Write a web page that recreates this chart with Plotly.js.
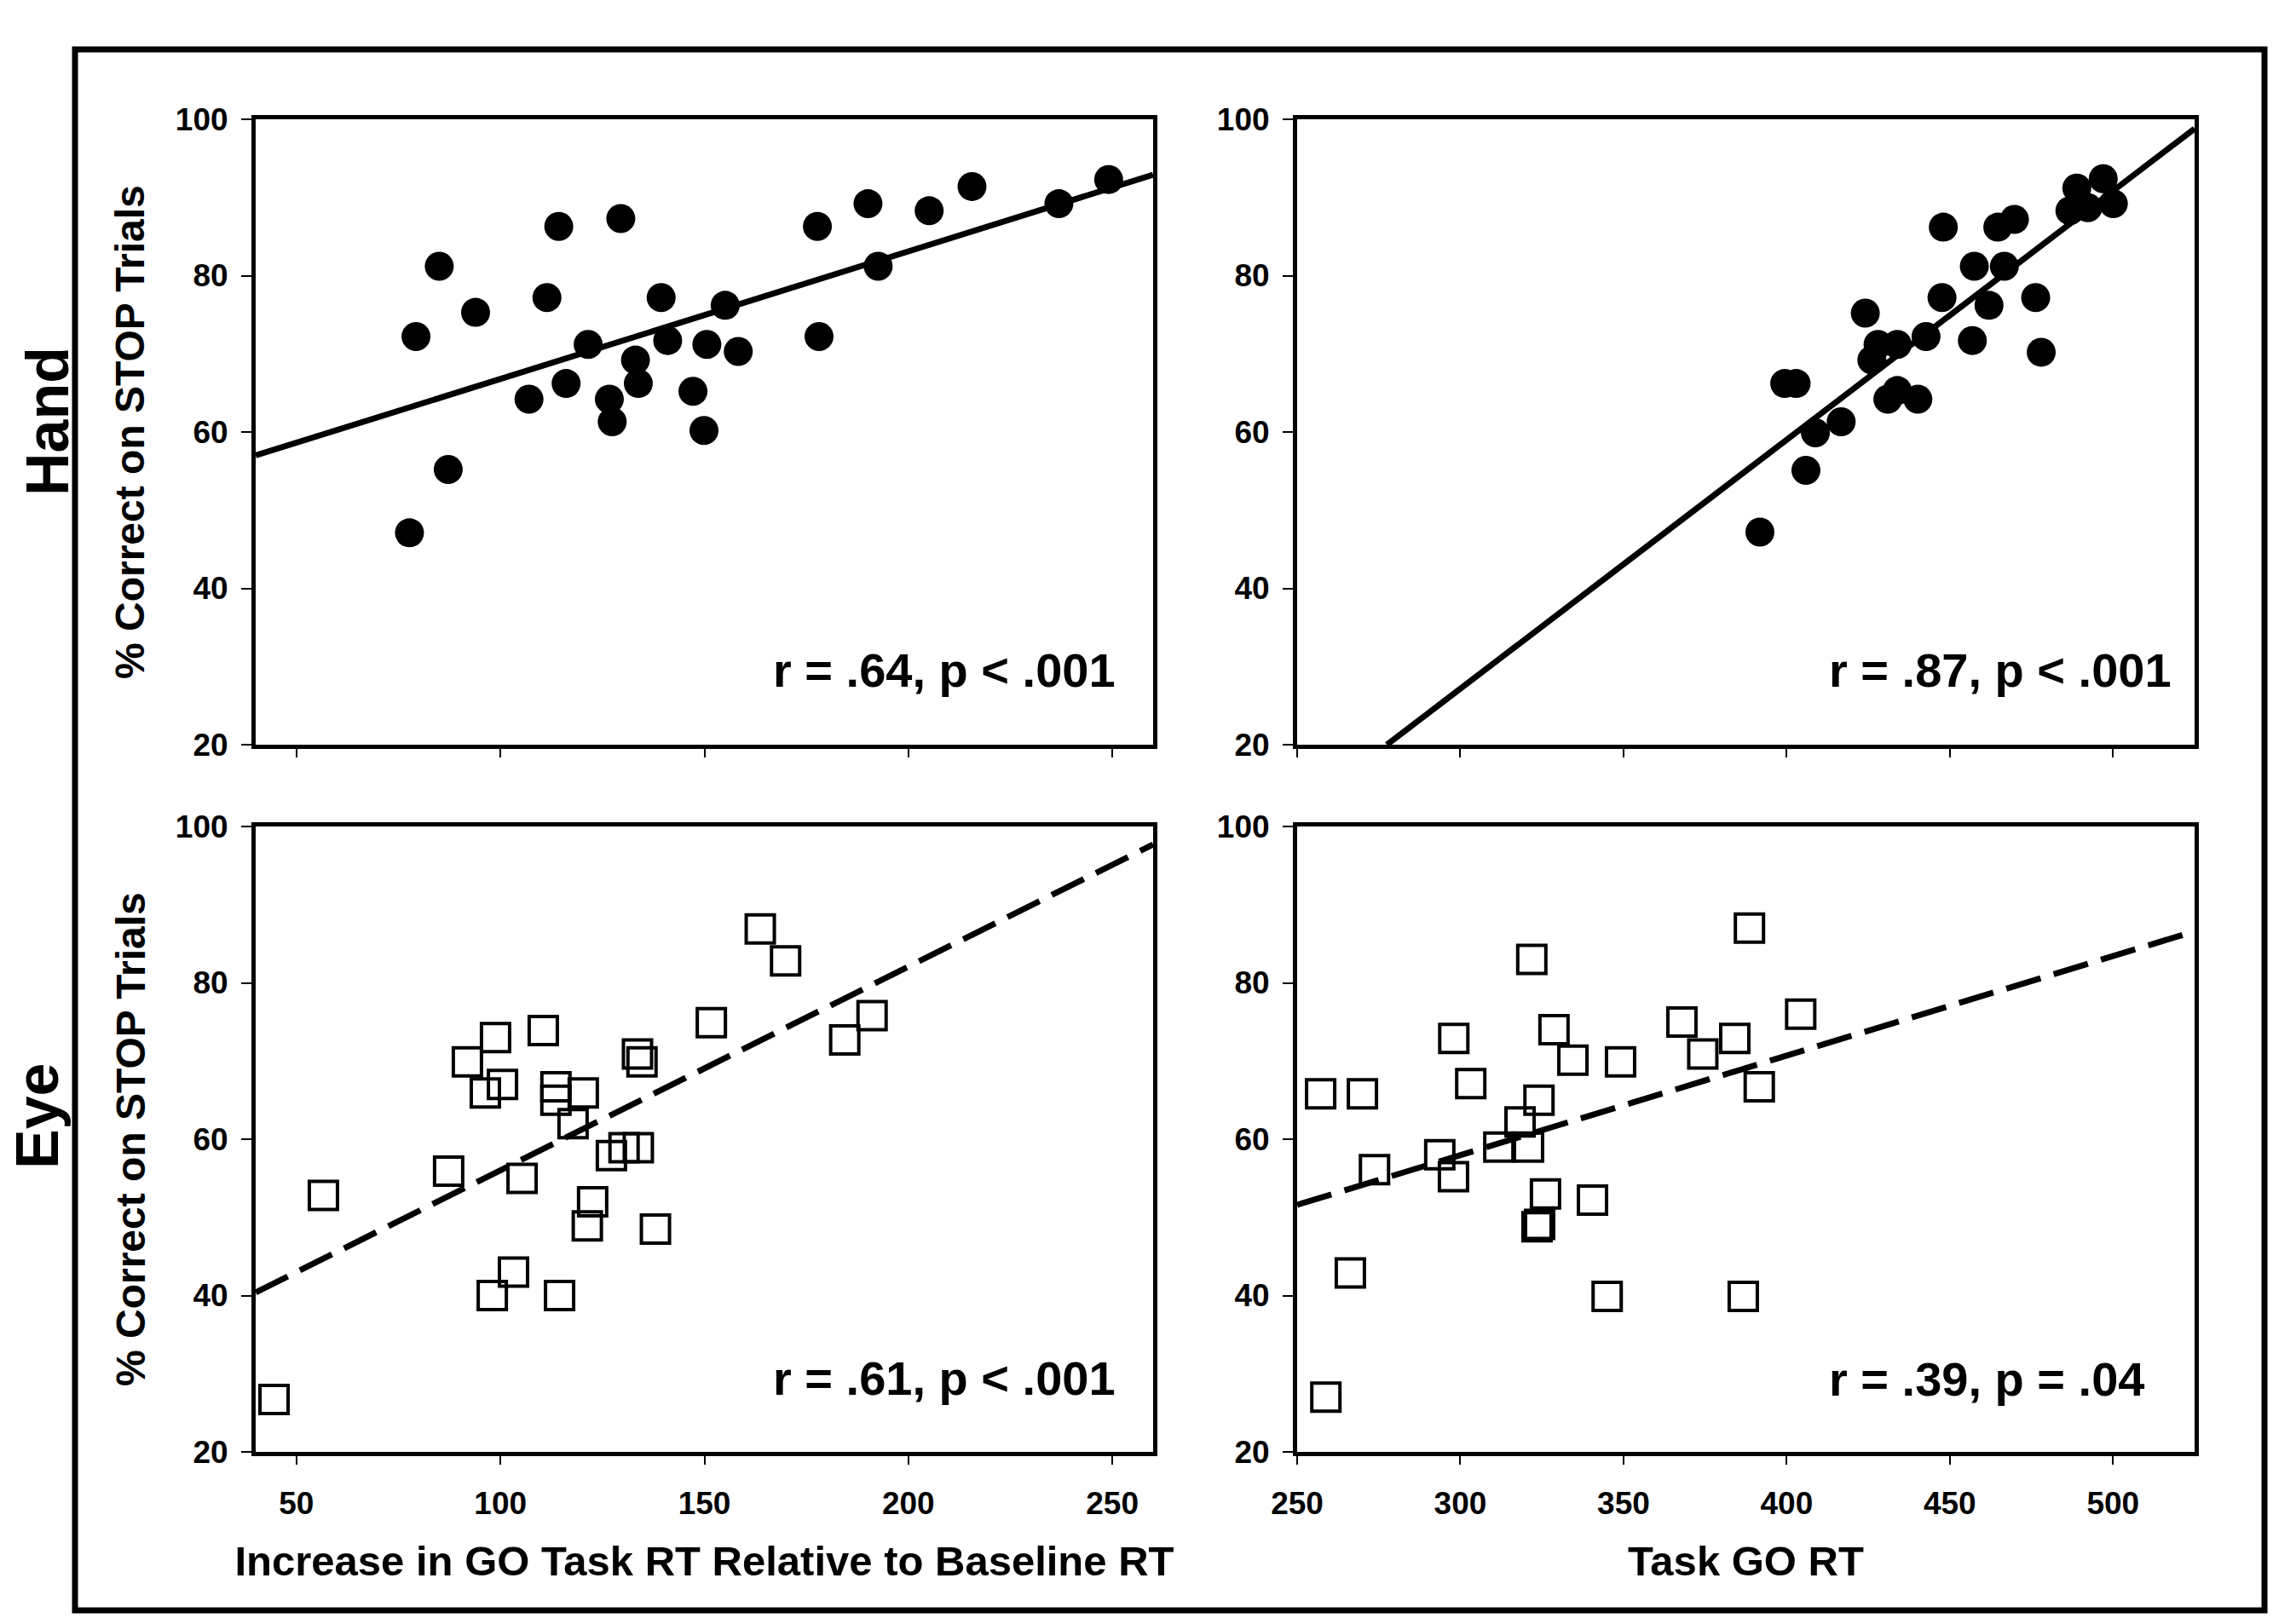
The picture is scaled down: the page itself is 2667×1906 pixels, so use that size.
<!DOCTYPE html>
<html>
<head>
<meta charset="utf-8">
<script src="https://cdn.plot.ly/plotly-3.0.1.min.js"></script>
<style>
html,body{margin:0;padding:0;background:#fff;}
#chart{width:2667px;height:1906px;}
</style>
</head>
<body>
<div id="chart"></div>
<script>
// ---- Data ----
// Hand, % correct vs increase in GO task RT relative to baseline
const handIncX = [77.7,79.3,85,87.2,93.9,107,111.4,114.3,116.1,121.5,126.7,127.4,129.5,133.1,133.8,139.4,141,147.2,150.6,149.9,155.1,158.3,177.7,178.1,190.1,192.6,205.1,215.6,236.9,249.1];
const handIncY = [47.1,72.2,81.2,55.2,75.3,64.2,77.2,86.3,66.2,71.2,64.2,61.3,87.3,69.2,66.2,77.2,71.7,65.2,71.2,60.2,76.2,70.3,86.3,72.2,89.2,81.2,88.3,91.4,89.2,92.3];
// Hand, % correct vs task GO RT
const handGoX = [391.8,399.4,402.9,405.9,408.8,416.7,424.1,426.1,428,431,433.9,433.9,440.2,442.7,447.6,448,456.9,457.5,462,464.7,466.7,469.8,476.3,478,486.8,488.9,492.3,497,500.1];
const handGoY = [47.2,66.2,66.2,55.1,59.9,61.3,75.2,69.2,71.2,64.2,71.2,65.3,64.2,72.2,77.2,86.2,71.7,81.2,76.2,86.2,81.2,87.2,77.2,70.2,88.3,91.2,88.7,92.4,89.2];
// Eye, % correct vs increase in GO task RT relative to baseline
const eyeIncX = [44.5,56.6,87.3,91.9,96.3,98.8,100.5,98,103.2,105.3,110.5,113.6,113.6,114.5,117.8,120.3,121.3,122.6,127.2,130.3,133.8,133.6,134.7,138.0,151.7,163.7,169.9,184.4,191.1];
const eyeIncY = [26.7,52.8,55.9,69.9,65.9,73.0,67.0,40,43.0,55.0,73.9,66.7,65.0,40,62.0,65.9,48.9,52.0,57.9,58.9,58.9,70.9,69.9,48.5,74.9,86.9,82.8,72.7,75.8];
// Eye, % correct vs task GO RT
const eyeGoX = [257.2,270,266.3,258.8,273.7,293.7,297.9,298,303.2,311.8,318.3,320.9,321.9,324.1,323.5,324.3,326.1,328.7,334.5,340.5,345,349.1,367.9,374.3,384.1,388.6,391.6,386.7,404.3];
const eyeGoY = [65.8,65.8,42.9,27,56.1,58,55.2,72.9,67.1,59.0,62.2,59.0,83,65.0,48.8,49.1,53.0,74,70.1,52.2,39.9,69.9,75,70.9,72.9,87,66.7,39.9,76];
// Regression line end points
const handIncFitX = [40, 260],  handIncFitY = [57.0, 92.9];
const handGoFitX  = [277.5, 525], handGoFitY = [20, 98.8];
const eyeIncFitX  = [40, 260],  eyeIncFitY = [40.4, 97.7];
const eyeGoFitX   = [250, 525], eyeGoFitY  = [51.6, 86.6];
// Text
const statLabels = ['r = .64, p < .001', 'r = .87, p < .001', 'r = .61, p < .001', 'r = .39, p = .04'];
const rowLabels = ['Hand', 'Eye'];
const yTitle = '% Correct on STOP Trials';
const xTitleLeft = 'Increase in GO Task RT Relative to Baseline RT';
const xTitleRight = 'Task GO RT';

// ---- Layout helpers ----
const W = 2667, H = 1906;
const px = v => v / W;
const py = v => 1 - v / H;
const FONT = 'Liberation Sans, Arial, Helvetica, sans-serif';

const leftDom = [px(300), px(1353)];
const rightDom = [px(1522), px(2575)];
const topDom = [py(874), py(140)];
const botDom = [py(1704), py(970)];

const circle = {symbol:'circle', size:34, color:'#000', line:{width:0}};
const square = {symbol:'square-open', size:33, color:'#000', line:{width:4, color:'#000'}};
const solid = {color:'#000', width:7};
const dashed = {color:'#000', width:7, dash:'42px,16px'};

const traces = [
  {x:handIncX, y:handIncY, mode:'markers', marker:circle, xaxis:'x', yaxis:'y'},
  {x:handIncFitX, y:handIncFitY, mode:'lines', line:solid, xaxis:'x', yaxis:'y'},
  {x:handGoX, y:handGoY, mode:'markers', marker:circle, xaxis:'x2', yaxis:'y2'},
  {x:handGoFitX, y:handGoFitY, mode:'lines', line:solid, xaxis:'x2', yaxis:'y2'},
  {x:eyeIncX, y:eyeIncY, mode:'markers', marker:square, xaxis:'x3', yaxis:'y3'},
  {x:eyeIncFitX, y:eyeIncFitY, mode:'lines', line:dashed, xaxis:'x3', yaxis:'y3'},
  {x:eyeGoX, y:eyeGoY, mode:'markers', marker:square, xaxis:'x4', yaxis:'y4'},
  {x:eyeGoFitX, y:eyeGoFitY, mode:'lines', line:dashed, xaxis:'x4', yaxis:'y4'}
];
traces.forEach(t => { t.showlegend = false; t.hoverinfo = 'skip'; t.cliponaxis = true; });

function xAx(dom, range, tick0, anchor, showLabels, title) {
  const a = {
    domain: dom, range: range, anchor: anchor,
    tick0: tick0, dtick: 50, ticks: 'outside', ticklen: 10, tickwidth: 2, tickcolor: '#000',
    showticklabels: showLabels, ticklabelstandoff: 14,
    tickfont: {family: FONT, size: 37, color: '#000', weight: 700},
    showline: true, linewidth: 5, linecolor: '#000', mirror: true,
    showgrid: false, zeroline: false, fixedrange: true
  };
  if (title) a.title = {text: title, font: {family: FONT, size: 49, color: '#000', weight: 700}, standoff: 32};
  return a;
}
function yAx(dom, anchor) {
  return {
    domain: dom, range: [20, 100], anchor: anchor,
    tick0: 20, dtick: 20, ticks: 'outside', ticklen: 12, tickwidth: 2, tickcolor: '#000',
    ticklabelstandoff: 8,
    tickfont: {family: FONT, size: 37, color: '#000', weight: 700},
    showline: true, linewidth: 5, linecolor: '#000', mirror: true,
    showgrid: false, zeroline: false, fixedrange: true
  };
}

const annBase = {showarrow: false, xref: 'paper', yref: 'paper'};
const statFont = {family: FONT, size: 56, color: '#000', weight: 700};
const annotations = [
  Object.assign({}, annBase, {text: statLabels[0], x: px(905), y: py(786), xanchor: 'left', yanchor: 'middle', font: statFont}),
  Object.assign({}, annBase, {text: statLabels[1], x: px(2144), y: py(786), xanchor: 'left', yanchor: 'middle', font: statFont}),
  Object.assign({}, annBase, {text: statLabels[2], x: px(905), y: py(1617), xanchor: 'left', yanchor: 'middle', font: statFont}),
  Object.assign({}, annBase, {text: statLabels[3], x: px(2144), y: py(1618), xanchor: 'left', yanchor: 'middle', font: statFont}),
  Object.assign({}, annBase, {text: yTitle, x: px(153), y: py(507), textangle: -90, xanchor: 'center', yanchor: 'middle',
    font: {family: FONT, size: 48, color: '#000', weight: 700}}),
  Object.assign({}, annBase, {text: yTitle, x: px(153), y: py(1337), textangle: -90, xanchor: 'center', yanchor: 'middle',
    font: {family: FONT, size: 48, color: '#000', weight: 700}}),
  Object.assign({}, annBase, {text: rowLabels[0], x: px(56), y: py(495), textangle: -90, xanchor: 'center', yanchor: 'middle',
    font: {family: FONT, size: 70, color: '#000', weight: 700}}),
  Object.assign({}, annBase, {text: rowLabels[1], x: px(44), y: py(1310), textangle: -90, xanchor: 'center', yanchor: 'middle',
    font: {family: FONT, size: 70, color: '#000', weight: 700}})
];

const layout = {
  width: W, height: H,
  margin: {l: 0, r: 0, t: 0, b: 0},
  paper_bgcolor: '#fff', plot_bgcolor: '#fff',
  showlegend: false,
  xaxis: xAx(leftDom, [40, 260], 50, 'y', false),
  yaxis: yAx(topDom, 'x'),
  xaxis2: xAx(rightDom, [250, 525], 250, 'y2', false),
  yaxis2: yAx(topDom, 'x2'),
  xaxis3: xAx(leftDom, [40, 260], 50, 'y3', true, xTitleLeft),
  yaxis3: yAx(botDom, 'x3'),
  xaxis4: xAx(rightDom, [250, 525], 250, 'y4', true, xTitleRight),
  yaxis4: yAx(botDom, 'x4'),
  annotations: annotations,
  shapes: [
    {type: 'rect', xref: 'paper', yref: 'paper', x0: px(88), x1: px(2657), y0: py(1890), y1: py(58),
     line: {color: '#000', width: 7}, fillcolor: 'rgba(0,0,0,0)', layer: 'below'}
  ]
};

Plotly.newPlot('chart', traces, layout, {staticPlot: true, displayModeBar: false});
</script>
</body>
</html>
